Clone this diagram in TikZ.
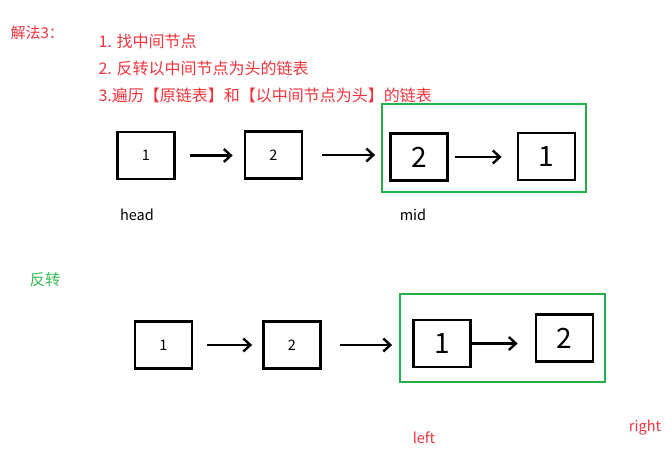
\documentclass[tikz,border=0pt]{standalone}
\usepackage{fontspec}
\setmainfont{Noto Sans CJK SC}
\usepackage{xcolor}
\definecolor{notered}{RGB}{240,52,60}
\definecolor{boxgreen}{RGB}{34,177,76}
\definecolor{notegreen}{RGB}{56,188,88}
\usetikzlibrary{arrows.meta}

\begin{document}
\begin{tikzpicture}[x=1pt,y=-1pt,
    every node/.style={font=\fontsize{14.5}{16}\selectfont},
    cell/.style={draw,line width=2.8pt,minimum width=57pt,minimum height=47pt,inner sep=0pt},
    hand/.style={cell,font=\fontsize{28}{30}\selectfont},
    grp/.style={draw=boxgreen,line width=2.6pt,inner sep=0pt},
    link/.style={line width=2.4pt,-{Straight Barb[length=7pt,width=13pt]}},
    note/.style={text=notered,anchor=west,font=\fontsize{16}{17}\selectfont}]
  \fill[white] (0,0) rectangle (667,470);
  \useasboundingbox (0,0) rectangle (667,470);
  %% steps
  \node[note,font=\fontsize{15}{16}\selectfont] (title) at (7,33) {解法3：};
  \node[note] (s1) at (95,41) {1. 找中间节点};
  \node[note] (s2) at (95,68) {2. 反转以中间节点为头的链表};
  \node[note] (s3) at (95,95) {3.遍历【原链表】和【以中间节点为头】的链表};
  %% original list
  \node[grp,minimum width=204pt,minimum height=88pt] (g1) at (484,148) {};
  \node[cell] (a1) at (146,155.5) {1};
  \node[cell] (a2) at (273.5,155) {2};
  \node[hand] (a3) at (419,157) {2};
  \node[hand] (a4) at (546.5,156.5) {1};
  \draw[link,shorten <=14pt,shorten >=11pt] (a1.east) -- (a1.east -| a2.west);
  \draw[link,shorten <=19pt,shorten >=14pt] (a2.east) -- (a2.east -| a3.west);
  \draw[link,shorten <=6pt,shorten >=15pt] (a3.east) -- (a3.east -| a4.west);
  \node (head) at (137,215) {head};
  \node (mid) at (413,215) {mid};
  %% reversed list
  \node[text=notegreen,font=\fontsize{15.5}{17}\selectfont] (rev) at (45,280) {反转};
  \node[grp,minimum width=205pt,minimum height=88pt] (g2) at (502.5,338) {};
  \node[cell] (b1) at (163.5,345) {1};
  \node[cell] (b2) at (292,345) {2};
  \node[hand] (b3) at (442,343.5) {1};
  \node[hand] (b4) at (564.5,338) {2};
  \draw[link,shorten <=14pt,shorten >=10pt] (b1.east) -- (b1.east -| b2.west);
  \draw[link,shorten <=18pt,shorten >=20pt] (b2.east) -- (b2.east -| b3.west);
  \draw[link,shorten >=17pt] (b3.east) -- (b3.east -| b4.west);
  \node[text=notered] (left) at (424,438) {left};
  \node[text=notered] (right) at (645,428) {right};
\end{tikzpicture}
\end{document}
